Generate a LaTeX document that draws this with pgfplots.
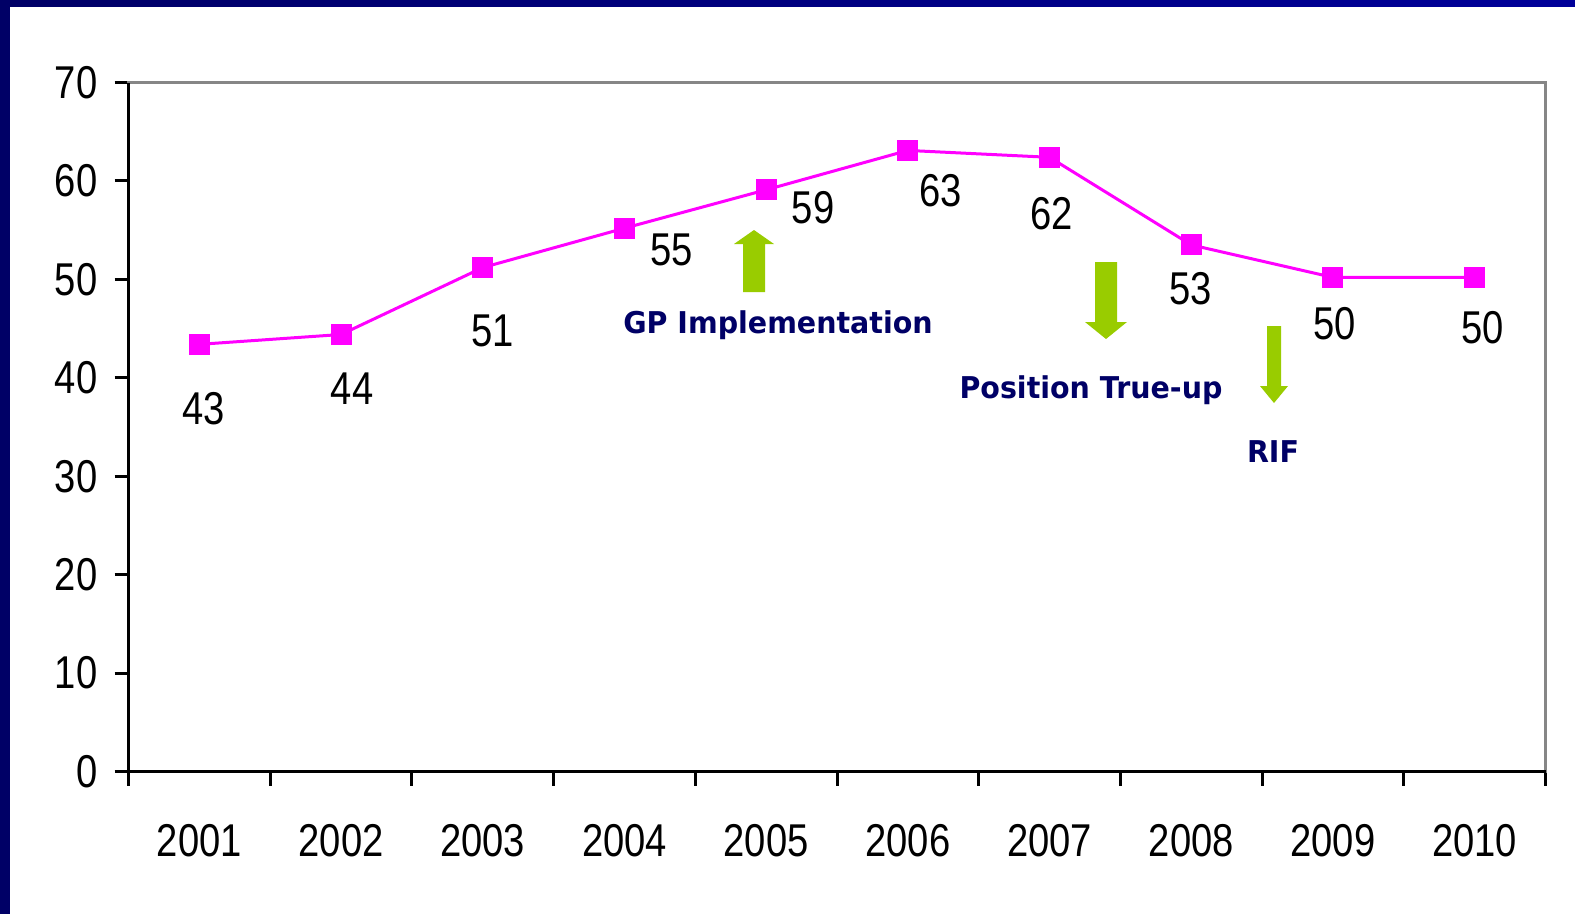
\documentclass[border=0pt]{standalone}
\usepackage{pgfplots}
\pgfplotsset{compat=1.18}
\usepackage{fontspec}
\setmainfont{Liberation Sans}
\newfontfamily\labfont[FakeStretch=0.83]{Liberation Sans}
\newfontfamily\annfont[FakeStretch=0.95]{DejaVu Sans}
\definecolor{navy}{RGB}{0,0,102}
\definecolor{navyb}{RGB}{0,0,153}
\definecolor{mag}{RGB}{255,0,255}
\definecolor{arrgreen}{RGB}{153,204,0}
\definecolor{framegray}{RGB}{134,134,134}
\newcommand{\lab}{\labfont\fontsize{23bp}{27bp}\selectfont}
\newcommand{\ann}{\annfont\bfseries\fontsize{15bp}{18bp}\selectfont}
\begin{document}
\begin{tikzpicture}
\begin{scope}[x=0.5bp,y=-0.5bp]
\fill[white] (0,0) rectangle (1575,914);
\fill[navy] (0,0) rectangle (10,914);
\shade[left color=navy,right color=navyb] (0,0) rectangle (1575,6);
\end{scope}
\begin{axis}[
  at={(64.25bp,-385.75bp)}, anchor=south west,
  scale only axis, width=708.5bp, height=344.5bp,
  xmin=0.5, xmax=10.5, ymin=0, ymax=70,
  xtick={0.5,1.5,...,10.5},
  xticklabels={2001,2002,2003,2004,2005,2006,2007,2008,2009,2010},
  x tick label as interval,
  ytick={0,10,...,70},
  tick pos=left, tick align=outside,
  major tick length=7bp,
  x tick style={black, line width=1.5bp},
  y tick style={black, line width=1.5bp},
  axis line style={draw=framegray, line width=1.5bp},
  tick label style={font=\lab},
  xticklabel style={yshift=-16bp},
  yticklabel style={xshift=-5bp},
  /pgf/number format/assume math mode=true,
  clip=false,
]
\addplot[mag, line width=1.5bp, mark=square*, mark size=4.5bp, mark options={solid, fill=mag, draw=mag}]
  coordinates {(1,43.4) (2,44.4) (3,51.2) (4,55.2) (5,59.1) (6,63.1) (7,62.4) (8,53.5) (9,50.2) (10,50.2)};
\draw[black, line width=1.5bp] (rel axis cs:0,1) -- (rel axis cs:0,0) -- (rel axis cs:1,0);
\node[font=\lab] at (axis cs:1,43.4) [xshift=2bp, yshift=-32bp] {43};
\node[font=\lab] at (axis cs:2,44.4) [xshift=5.5bp, yshift=-27bp] {44};
\node[font=\lab] at (axis cs:3,51.2) [xshift=5bp, yshift=-31.5bp] {51};
\node[font=\lab] at (axis cs:4,55.2) [xshift=23.5bp, yshift=-11bp] {55};
\node[font=\lab] at (axis cs:5,59.1) [xshift=23.5bp, yshift=-9bp] {59};
\node[font=\lab] at (axis cs:6,63.1) [xshift=16.5bp, yshift=-20bp] {63};
\node[font=\lab] at (axis cs:7,62.4) [xshift=1bp, yshift=-28bp] {62};
\node[font=\lab] at (axis cs:8,53.5) [xshift=-0.5bp, yshift=-22bp] {53};
\node[font=\lab] at (axis cs:9,50.2) [xshift=1bp, yshift=-23bp] {50};
\node[font=\lab] at (axis cs:10,50.2) [xshift=4bp, yshift=-25bp] {50};
\end{axis}
\begin{scope}[x=0.5bp,y=-0.5bp]
\fill[arrgreen] (743,292) -- (743,244) -- (734,244) -- (754,230) -- (774,244) -- (765,244) -- (765,292) -- cycle;
\fill[arrgreen] (1095,262) -- (1095,322) -- (1085,322) -- (1106,339) -- (1127,322) -- (1117,322) -- (1117,262) -- cycle;
\fill[arrgreen] (1267,326) -- (1267,386) -- (1260,386) -- (1274,403) -- (1288,386) -- (1281,386) -- (1281,326) -- cycle;
\node[font=\ann, text=navy, anchor=base, inner sep=0pt] at (778,333) {GP Implementation};
\node[font=\ann, text=navy, anchor=base, inner sep=0pt] at (1091,398) {Position True-up};
\node[font=\ann, text=navy, anchor=base, inner sep=0pt] at (1273,462) {RIF};
\end{scope}
\end{tikzpicture}
\end{document}
